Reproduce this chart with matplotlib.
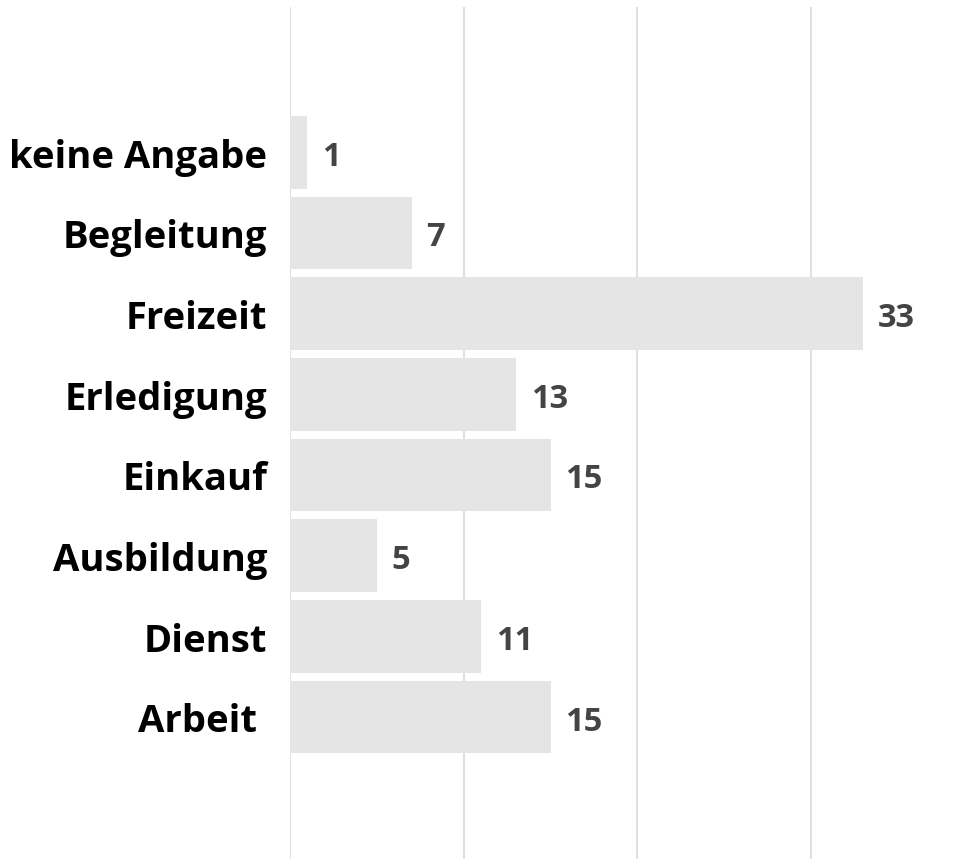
import matplotlib.pyplot as plt

# Daten (von unten nach oben)
categories = ["Arbeit ", "Dienst", "Ausbildung", "Einkauf", "Erledigung",
              "Freizeit", "Begleitung", "keine Angabe"]
values = [15, 11, 5, 15, 13, 33, 7, 1]

W, H = 973, 862
fig = plt.figure(figsize=(W / 100, H / 100), dpi=100)
ax = fig.add_axes([290 / W, (H - 860) / H, (W - 290) / W, (860 - 8) / H])

pos = list(range(len(categories)))
ax.barh(pos, values, height=0.9, color="#e5e5e5", zorder=2)

for y, v in zip(pos, values):
    ax.text(v + 0.85, y - 0.05, str(v), va="center", ha="left", fontsize=23.5,
            fontweight="bold", color="#444444", family=["Open Sans", "DejaVu Sans"])

ax.set_xlim(0, (W - 290) / 17.37)
ax.set_ylim(-1.76, 8.8)
ax.set_xticks([0, 10, 20, 30])
ax.grid(axis="x", color="#e0e0e0", linewidth=1.5, zorder=0)
ax.tick_params(axis="x", length=0, labelbottom=False)
ax.tick_params(axis="y", length=0, pad=16.5)
ax.set_yticks(pos)
ax.set_yticklabels(categories, fontsize=27.5, fontweight="bold",
                   family=["Open Sans", "DejaVu Sans"], color="black")
for s in ax.spines.values():
    s.set_visible(False)

fig.savefig("out.png", dpi=100)
